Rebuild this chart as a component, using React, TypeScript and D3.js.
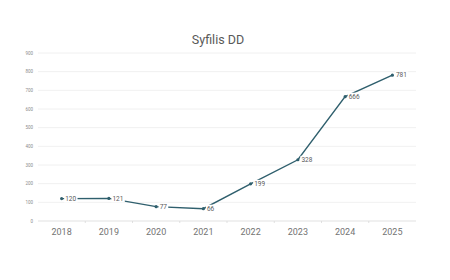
import React from "react";
import * as d3 from "d3";

const years = ["2018", "2019", "2020", "2021", "2022", "2023", "2024", "2025"];
const cases = [120, 121, 77, 66, 199, 328, 666, 781];
const yTicks = [0, 100, 200, 300, 400, 500, 600, 700, 800, 900];

const W = 450;
const H = 280;

export default function App() {
  const x = d3.scaleBand<string>().domain(years).range([38, 416]);
  const y = d3.scaleLinear().domain([0, 900]).range([221, 53]);
  const cx = (d: string) => (x(d) ?? 0) + x.bandwidth() / 2;

  const path = d3
    .line<number>()
    .x((_, i) => cx(years[i]))
    .y((v) => y(v))(cases);

  const lineColor = "#2f5f6d";

  return (
    <svg
      width={W}
      height={H}
      style={{ position: "absolute", left: 0, top: 0, background: "#fff" }}
      fontFamily="Roboto, 'Noto Sans', sans-serif"
    >
      <text x={218} y={44} textAnchor="middle" fontSize={12.5} fill="#595959">
        Syfilis DD
      </text>

      {yTicks.map((t) => (
        <g key={t}>
          <line x1={38} x2={416} y1={y(t)} y2={y(t)} stroke={t === 0 ? "#d9d9d9" : "#ececec"} strokeWidth={0.8} />
          <text x={33} y={y(t) + 1.5} textAnchor="end" fontSize={4.5} fill="#8c8c8c">
            {t}
          </text>
        </g>
      ))}

      {years.map((yr, i) => (
        <g key={yr}>
          {i > 0 && (
            <line x1={x(yr)} x2={x(yr)} y1={221} y2={223} stroke="#d9d9d9" strokeWidth={0.8} />
          )}
          <text x={cx(yr)} y={235} textAnchor="middle" fontSize={9} fill="#737373">
            {yr}
          </text>
        </g>
      ))}

      <path d={path ?? ""} fill="none" stroke={lineColor} strokeWidth={1.4} />

      {cases.map((v, i) => (
        <g key={i}>
          <circle cx={cx(years[i])} cy={y(v)} r={1.6} fill={lineColor} />
          <rect x={cx(years[i]) + 2.5} y={y(v) - 4} width={String(v).length * 3.8 + 2} height={8} fill="#fff" />
          <text x={cx(years[i]) + 3.5} y={y(v) + 2.2} fontSize={6.5} fill="#595959">
            {v}
          </text>
        </g>
      ))}
    </svg>
  );
}
